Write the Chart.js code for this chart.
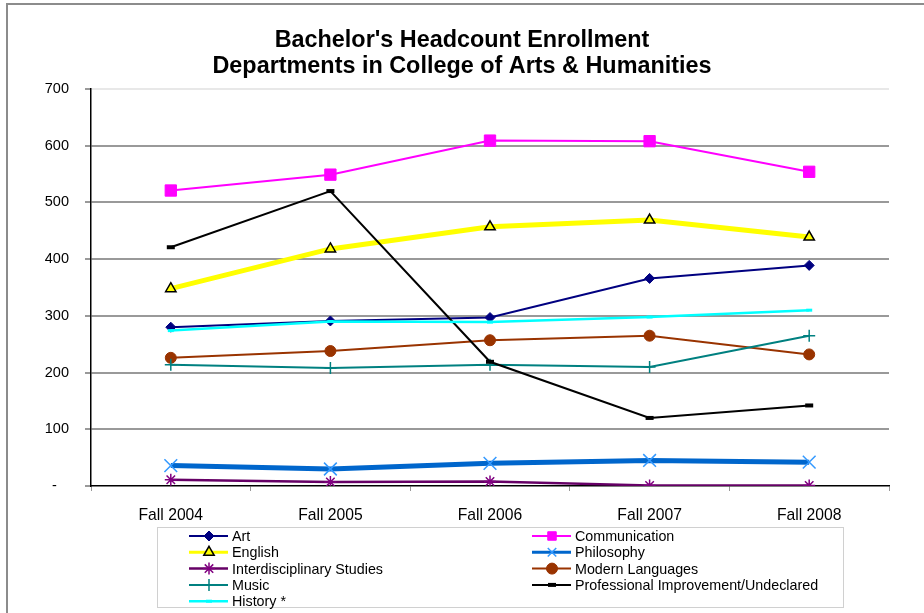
<!DOCTYPE html>
<html>
<head>
<meta charset="utf-8">
<script src="https://cdn.jsdelivr.net/npm/chart.js@4"></script>
<style>
  html, body { margin: 0; padding: 0; background: #fff; }
  #wrap { position: absolute; left: 0; top: 0; width: 924px; height: 613px; }
</style>
</head>
<body>
<div id="wrap"><canvas id="myChart" width="924" height="613"></canvas></div>
<script>
// data
const titleLines = ["Bachelor's Headcount Enrollment", 'Departments in College of Arts & Humanities'];
const terms = ['Fall 2004', 'Fall 2005', 'Fall 2006', 'Fall 2007', 'Fall 2008'];
const yTicks = [0, 100, 200, 300, 400, 500, 600, 700];

const art = [280, 291, 297, 366, 389];
const communication = [521, 549, 609, 608, 554];
const english = [348, 418, 457, 469, 439];
const philosophy = [36, 30, 40, 45, 42];
const interdisciplinary = [11, 7, 8, 1, 1];
const modernLanguages = [226, 238, 257, 265, 232];
const music = [214, 208, 214, 210, 265];
const professional = [421, 520, 219, 120, 142];
const history = [274, 290, 289, 298, 310];

const FONT = '"Liberation Sans", Arial, sans-serif';

// setup
const series = [
  { label: 'Art', data: art, borderColor: '#000080', pointBackgroundColor: '#000080', pointBorderColor: '#000080', borderWidth: 2, pointStyle: 'rectRot', pointRadius: 5, pointBorderWidth: 1 },
  { label: 'Communication', data: communication, borderColor: '#FF00FF', pointBackgroundColor: '#FF00FF', pointBorderColor: '#FF00FF', borderWidth: 2, pointStyle: 'rect', pointRadius: 8, pointBorderWidth: 1 },
  { label: 'English', data: english, borderColor: '#FFFF00', pointBackgroundColor: '#FFFF00', pointBorderColor: '#000000', borderWidth: 5, pointStyle: 'triangle', pointRadius: 6, pointBorderWidth: 1.5 },
  { label: 'Philosophy', data: philosophy, borderColor: '#0066CC', pointBackgroundColor: '#3399FF', pointBorderColor: '#3399FF', borderWidth: 5, pointStyle: 'crossRot', pointRadius: 9, pointBorderWidth: 1.5 },
  { label: 'Interdisciplinary Studies', data: interdisciplinary, borderColor: '#660066', pointBackgroundColor: '#800080', pointBorderColor: '#800080', borderWidth: 2.5, pointStyle: 'star', pointRadius: 6, pointBorderWidth: 1.5 },
  { label: 'Modern Languages', data: modernLanguages, borderColor: '#993300', pointBackgroundColor: '#993300', pointBorderColor: '#993300', borderWidth: 2, pointStyle: 'circle', pointRadius: 5.5, pointBorderWidth: 1 },
  { label: 'Music', data: music, borderColor: '#008080', pointBackgroundColor: '#008080', pointBorderColor: '#008080', borderWidth: 2, pointStyle: 'cross', pointRadius: 6, pointBorderWidth: 1.5 },
  { label: 'Professional Improvement/Undeclared', data: professional, borderColor: '#000000', pointBackgroundColor: '#000000', pointBorderColor: '#000000', borderWidth: 2, pointStyle: 'line', pointRadius: 4, pointBorderWidth: 4 },
  { label: 'History *', data: history, borderColor: '#00FFFF', pointBackgroundColor: '#00FFFF', pointBorderColor: '#00FFFF', borderWidth: 2.5, pointStyle: 'line', pointRadius: 3, pointBorderWidth: 3 }
];

const datasets = series.map((s, i) => Object.assign({
  fill: false,
  tension: 0,
  order: series.length - i,
  pointHoverRadius: s.pointRadius
}, s));

// frame, title and legend drawn on the canvas
const extras = {
  id: 'extras',
  beforeDraw(chart) {
    const ctx = chart.ctx;
    ctx.save();
    ctx.strokeStyle = '#8c8c8c';
    ctx.lineWidth = 2;
    ctx.beginPath();
    ctx.moveTo(7, 613);
    ctx.lineTo(7, 4);
    ctx.lineTo(924, 4);
    ctx.stroke();
    ctx.restore();
  },
  afterDraw(chart) {
    const ctx = chart.ctx;
    ctx.save();
    // title
    ctx.fillStyle = '#000';
    ctx.font = 'bold 23.4px ' + FONT;
    ctx.textAlign = 'center';
    ctx.textBaseline = 'middle';
    titleLines.forEach((t, i) => ctx.fillText(t, 462, 40.5 + i * 26));

    // legend
    ctx.strokeStyle = '#d0d0d0';
    ctx.lineWidth = 1;
    ctx.strokeRect(157.5, 527.5, 686, 80);
    ctx.font = '14.3px ' + FONT;
    ctx.textBaseline = 'middle';
    ctx.textAlign = 'left';
    chart.data.datasets.forEach((ds, i) => {
      const col = i % 2, row = Math.floor(i / 2);
      const x0 = col === 0 ? 189 : 532;
      const y = 536 + row * 16.3;
      ctx.strokeStyle = ds.borderColor;
      ctx.lineWidth = Math.min(ds.borderWidth, 3);
      ctx.beginPath();
      ctx.moveTo(x0, y);
      ctx.lineTo(x0 + 39, y);
      ctx.stroke();
      ctx.fillStyle = ds.pointBackgroundColor;
      ctx.strokeStyle = ds.pointBorderColor;
      ctx.lineWidth = ds.pointBorderWidth;
      Chart.helpers.drawPoint(ctx, {
        pointStyle: ds.pointStyle,
        radius: Math.min(ds.pointRadius, 6),
        rotation: 0,
        borderWidth: ds.pointBorderWidth
      }, x0 + 20, y);
      ctx.fillStyle = '#000';
      ctx.fillText(ds.label, x0 + 43, y + 1);
    });
    ctx.restore();
  }
};

// config
const config = {
  type: 'line',
  data: { labels: terms, datasets },
  options: {
    responsive: false,
    devicePixelRatio: 1,
    animation: false,
    layout: { padding: { left: 0, top: 89, right: 35, bottom: 87 } },
    plugins: {
      legend: { display: false },
      tooltip: { enabled: false },
      title: { display: false }
    },
    scales: {
      x: {
        offset: true,
        grid: { offset: true, drawOnChartArea: false, drawTicks: true, tickLength: 5, tickColor: '#999' },
        border: { color: '#000', width: 1.5 },
        ticks: { color: '#000', font: { family: FONT, size: 15.7 }, padding: 15, maxRotation: 0 },
        afterFit(scale) { scale.height = 40; }
      },
      y: {
        min: 0,
        max: 700,
        afterBuildTicks(scale) { scale.ticks = yTicks.map(v => ({ value: v })); },
        grid: {
          color: (c) => c.tick && c.tick.value === 700 ? '#e8e8e8' : (c.tick && c.tick.value === 0 ? 'rgba(0,0,0,0)' : '#999'),
          lineWidth: 2,
          tickLength: 6,
          tickColor: '#999'
        },
        border: { color: '#000', width: 1.5 },
        ticks: {
          color: '#000',
          font: { family: FONT, size: 14.5 },
          padding: 16,
          callback: (v) => v === 0 ? '-   ' : String(v)
        },
        afterFit(scale) { scale.width = 91; }
      }
    }
  },
  plugins: [extras]
};

// render init block
const myChart = new Chart(document.getElementById('myChart'), config);
</script>
</body>
</html>
